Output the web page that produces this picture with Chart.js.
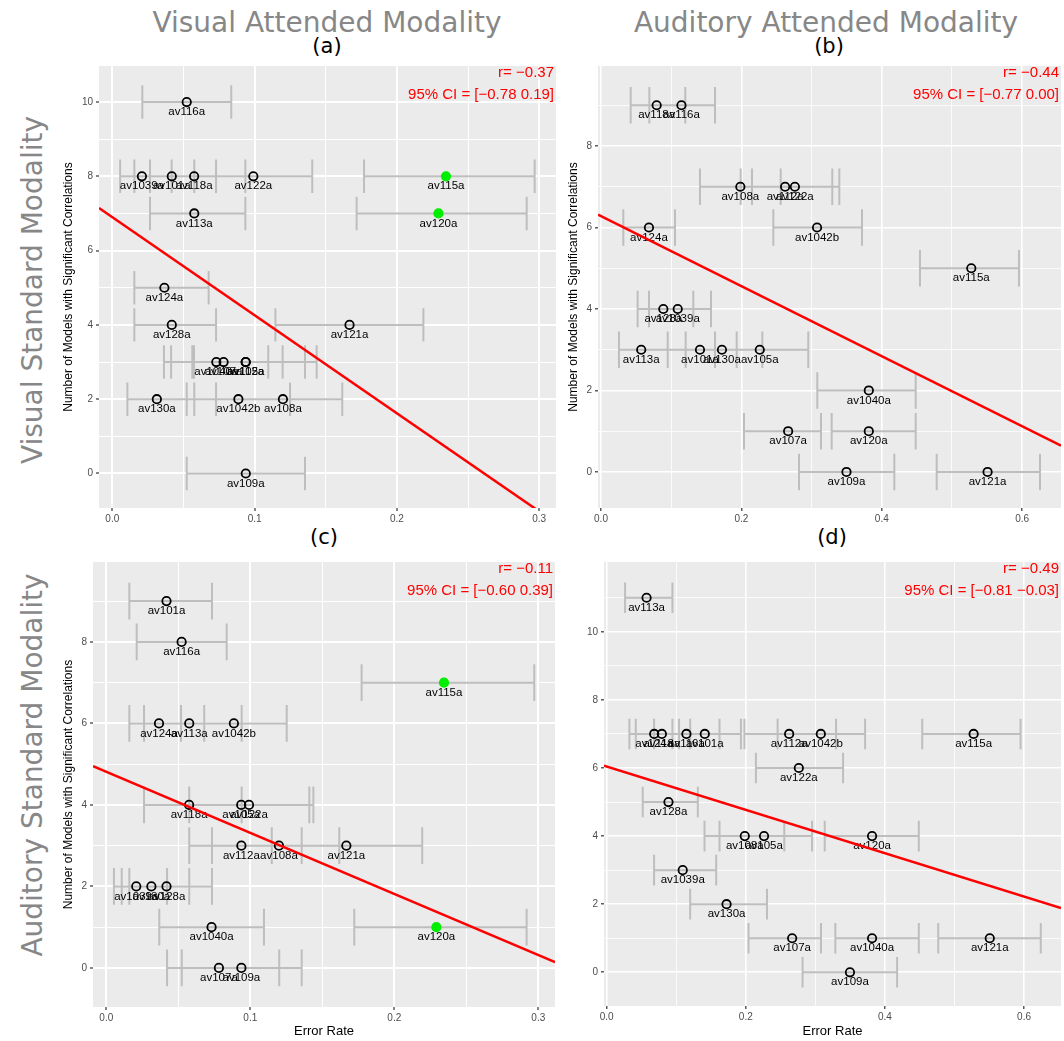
<!DOCTYPE html>
<html>
<head>
<meta charset="utf-8">
<script src="https://cdn.jsdelivr.net/npm/chart.js@4.4.1/dist/chart.umd.min.js"></script>
<style>
  body { margin: 0; background: #fff; width: 1064px; height: 1041px; position: relative; overflow: hidden; font-family: "DejaVu Sans", sans-serif; }
  canvas { position: absolute; }
  .lbl { position: absolute; transform: translate(-50%, -50%); white-space: nowrap; }
  .big { font-size: 28px; color: #878787; }
  .tag { font-size: 21px; color: #000; }
  .rot { transform: translate(-50%, -50%) rotate(-90deg); }
</style>
</head>
<body>
<div class="lbl big" style="left:327px;top:22px">Visual Attended Modality</div>
<div class="lbl big" style="left:826px;top:22px">Auditory Attended Modality</div>
<div class="lbl tag" style="left:327px;top:46px">(a)</div>
<div class="lbl tag" style="left:829px;top:46px">(b)</div>
<div class="lbl tag" style="left:324px;top:537px">(c)</div>
<div class="lbl tag" style="left:832px;top:537px">(d)</div>
<div class="lbl big rot" style="left:32px;top:290px">Visual Standard Modality</div>
<div class="lbl big rot" style="left:32px;top:765px">Auditory Standard Modality</div>

<canvas id="pa"></canvas>
<canvas id="pb"></canvas>
<canvas id="pc"></canvas>
<canvas id="pd"></canvas>

<script>
const models = ['av101a', 'av1039a', 'av1040a', 'av1042b', 'av105a', 'av107a', 'av108a', 'av109a', 'av112a', 'av113a',
                'av115a', 'av116a', 'av118a', 'av120a', 'av121a', 'av122a', 'av124a', 'av128a', 'av130a'];

// error rates per attended modality
const visualRate   = [0.0418, 0.0208, 0.0731, 0.0886, 0.0937, 0.0782, 0.1199, 0.0938, 0.0938, 0.0576,
                      0.2345, 0.0523, 0.0575, 0.2292, 0.1667, 0.0991, 0.0366, 0.0418, 0.0313];
const auditoryRate = [0.1410, 0.1093, 0.3815, 0.3078, 0.2262, 0.2666, 0.1985, 0.3497, 0.2623, 0.0573,
                      0.5275, 0.1146, 0.0793, 0.3815, 0.5507, 0.2762, 0.0683, 0.0888, 0.1723];

// (a) visual attended / visual standard
const countA = [8, 8, 3, 2, 3, 3, 2, 0, 3, 7, 8, 10, 8, 7, 4, 8, 5, 4, 2];
const lowA   = [0.0155, 0.0055, 0.0363, 0.0523, 0.0562, 0.0413, 0.0729, 0.0523, 0.0574, 0.0265,
                0.1769, 0.0211, 0.0265, 0.1717, 0.1146, 0.0576, 0.0155, 0.0155, 0.0106];
const highA  = [0.0729, 0.0417, 0.1096, 0.1249, 0.1354, 0.1197, 0.1616, 0.1354, 0.1436, 0.0935,
                0.2968, 0.0836, 0.0935, 0.2912, 0.2186, 0.1405, 0.0677, 0.0729, 0.0576];

// (b) auditory attended / visual standard
const countB = [3, 4, 2, 6, 3, 1, 7, 0, 7, 3, 5, 9, 9, 1, 0, 7, 6, 4, 3];
const lowB   = [0.0950, 0.0684, 0.3081, 0.2455, 0.1624, 0.2037, 0.1410, 0.2821, 0.1990, 0.0256,
                0.4544, 0.0689, 0.0423, 0.3286, 0.4782, 0.2151, 0.0318, 0.0522, 0.1206];
const highB  = [0.1933, 0.1567, 0.4483, 0.3718, 0.2953, 0.3134, 0.2560, 0.4179, 0.3295, 0.0950,
                0.5954, 0.1624, 0.1201, 0.4483, 0.6254, 0.3395, 0.1054, 0.1315, 0.2298];

// (c) visual attended / auditory standard
const countC = [9, 2, 1, 6, 4, 0, 3, 0, 3, 6, 7, 8, 4, 1, 3, 4, 6, 2, 2];
const lowC   = [0.0160, 0.0053, 0.0368, 0.0519, 0.0576, 0.0422, 0.0734, 0.0524, 0.0576, 0.0262,
                0.1773, 0.0211, 0.0262, 0.1722, 0.1149, 0.0576, 0.0160, 0.0160, 0.0107];
const highC  = [0.0734, 0.0422, 0.1095, 0.1253, 0.1438, 0.1201, 0.1618, 0.1357, 0.1357, 0.0940,
                0.2972, 0.0836, 0.0940, 0.2919, 0.2194, 0.1410, 0.0680, 0.0734, 0.0576];

// (d) auditory attended / auditory standard
const countD = [7, 3, 1, 7, 4, 1, 4, 0, 7, 11, 7, 7, 7, 4, 1, 6, 7, 5, 2];
const lowD   = [0.0945, 0.0681, 0.3287, 0.2457, 0.1622, 0.2039, 0.1406, 0.2816, 0.1980, 0.0264,
                0.4536, 0.0681, 0.0418, 0.3134, 0.4766, 0.2145, 0.0326, 0.0518, 0.1200];
const highD  = [0.1930, 0.1574, 0.4487, 0.3715, 0.2952, 0.3081, 0.2553, 0.4175, 0.3297, 0.0945,
                0.5950, 0.1622, 0.1200, 0.4487, 0.6240, 0.3398, 0.1040, 0.1310, 0.2304];

// fitted lines: [intercept, slope]
const fitA = [6.90, -26.4];
const fitB = [6.277, -8.59];
const fitC = [4.815, -15.0];
const fitD = [6.045, -6.37];

const statsA = ['r= \u22120.37', '95% CI = [\u22120.78 0.19]'];
const statsB = ['r= \u22120.44', '95% CI = [\u22120.77 0.00]'];
const statsC = ['r= \u22120.11', '95% CI = [\u22120.60 0.39]'];
const statsD = ['r= \u22120.49', '95% CI = [\u22120.81 \u22120.03]'];

const greenModels = ['av115a', 'av120a'];

const visualTicks = [0, 0.1, 0.2, 0.3];
const visualMinor = [0.05, 0.15, 0.25];
const auditoryTicks = [0, 0.2, 0.4, 0.6];
const auditoryMinor = [0.1, 0.3, 0.5];
const yTicks10 = [0, 2, 4, 6, 8, 10];
const yTicks8 = [0, 2, 4, 6, 8];
const yMinor9 = [1, 3, 5, 7, 9];
const yMinor11 = [1, 3, 5, 7, 9, 11];

const CAP = 0.45;

Chart.defaults.font.family = '"Liberation Sans", Arial, sans-serif';

const panels = [
    { id: 'pa', box: [60, 66, 496, 462], axisW: 39, axisH: 20, xr: [-0.00935, 0.3118], yr: [-0.929, 10.97],
      rate: visualRate, count: countA, low: lowA, high: highA, fit: fitA, stats: statsA, green: greenModels,
      xTicks: visualTicks, xMinor: visualMinor, yTicks: yTicks10, yMinor: yMinor9, yTitle: true, xTitle: false, gw: 2 },
    { id: 'pb', box: [565, 66, 496, 462], axisW: 33, axisH: 20, xr: [-0.00427, 0.6553], yr: [-0.884, 9.963],
      rate: auditoryRate, count: countB, low: lowB, high: highB, fit: fitB, stats: statsB, green: [],
      xTicks: auditoryTicks, xMinor: auditoryMinor, yTicks: yTicks8, yMinor: yMinor9, yTitle: true, xTitle: false, gw: 1.6 },
    { id: 'pc', box: [60, 562, 495, 479], axisW: 33, axisH: 34, xr: [-0.00924, 0.3116], yr: [-0.959, 9.96],
      rate: visualRate, count: countC, low: lowC, high: highC, fit: fitC, stats: statsC, green: greenModels,
      xTicks: visualTicks, xMinor: visualMinor, yTicks: yTicks8, yMinor: yMinor9, yTitle: true, xTitle: true, gw: 2 },
    { id: 'pd', box: [565, 562, 496, 479], axisW: 39, axisH: 35, xr: [-0.00389, 0.6531], yr: [-0.99, 12.05],
      rate: auditoryRate, count: countD, low: lowD, high: highD, fit: fitD, stats: statsD, green: [],
      xTicks: auditoryTicks, xMinor: auditoryMinor, yTicks: yTicks10, yMinor: yMinor11, yTitle: false, xTitle: true, gw: 1.6 }
];

const has = (list, v) => list.some((t) => Math.abs(t - v) < 1e-9);

const panelBg = {
    id: 'panelBg',
    beforeDraw(chart) {
        const { ctx, chartArea: a } = chart;
        ctx.save();
        ctx.fillStyle = '#EBEBEB';
        ctx.fillRect(a.left, a.top, a.right - a.left, a.bottom - a.top);
        ctx.restore();
    }
};

const pointLabels = {
    id: 'pointLabels',
    afterDatasetDraw(chart, args) {
        if (args.index !== 1) return;
        const ctx = chart.ctx;
        ctx.save();
        ctx.font = '11.5px "Liberation Sans", Arial, sans-serif';
        ctx.fillStyle = '#000';
        ctx.textAlign = 'center';
        ctx.textBaseline = 'middle';
        args.meta.data.forEach((el, j) => ctx.fillText(models[j], el.x, el.y + 10));
        ctx.restore();
    }
};

const statText = {
    id: 'statText',
    afterDraw(chart) {
        const lines = chart.options.plugins.statText.lines;
        const { ctx, chartArea: a } = chart;
        ctx.save();
        ctx.font = '15px "Liberation Sans", Arial, sans-serif';
        ctx.fillStyle = '#FF0000';
        ctx.textAlign = 'right';
        ctx.textBaseline = 'middle';
        ctx.fillText(lines[0], a.right - 2, a.top + 7);
        ctx.fillText(lines[1], a.right - 2, a.top + 29);
        ctx.restore();
    }
};

function axisGrid(major, width) {
    return {
        color: '#FFFFFF',
        lineWidth: (c) => (c.tick && has(major, c.tick.value) ? width : width / 2),
        tickColor: (c) => (c.tick && has(major, c.tick.value) ? '#333333' : 'rgba(0,0,0,0)'),
        tickWidth: 1.2,
        tickLength: 3,
        drawTicks: true
    };
}

function makeChart(p) {
    const canvas = document.getElementById(p.id);
    canvas.style.left = p.box[0] + 'px';
    canvas.style.top = p.box[1] + 'px';
    canvas.width = p.box[2];
    canvas.height = p.box[3];

    const bars = [];
    p.count.forEach((c, i) => {
        bars.push({ x: p.low[i], y: c }, { x: p.high[i], y: c }, { x: p.low[i], y: null });
        bars.push({ x: p.low[i], y: c - CAP }, { x: p.low[i], y: c + CAP }, { x: p.low[i], y: null });
        bars.push({ x: p.high[i], y: c - CAP }, { x: p.high[i], y: c + CAP }, { x: p.high[i], y: null });
    });

    const points = models.map((m, i) => ({ x: p.rate[i], y: p.count[i] }));
    const isGreen = models.map((m) => p.green.includes(m));
    const [b0, b1] = p.fit;
    const fitLine = [
        { x: p.xr[0], y: b0 + b1 * p.xr[0] },
        { x: p.xr[1], y: b0 + b1 * p.xr[1] }
    ];

    new Chart(canvas, {
        type: 'scatter',
        data: {
            datasets: [
                {
                    type: 'line', data: bars, order: 2, borderColor: '#BEBEBE', borderWidth: 2,
                    pointRadius: 0, spanGaps: false, tension: 0, borderCapStyle: 'butt'
                },
                {
                    type: 'scatter', data: points, order: 1, pointRadius: 4.2, pointBorderWidth: 1.8,
                    pointBorderColor: isGreen.map((g) => (g ? '#00EE00' : '#000000')),
                    pointBackgroundColor: isGreen.map((g) => (g ? '#00EE00' : 'rgba(0,0,0,0)'))
                },
                {
                    type: 'line', data: fitLine, order: 0, borderColor: '#FF0000', borderWidth: 2.5,
                    pointRadius: 0, tension: 0
                }
            ]
        },
        options: {
            responsive: false,
            animation: false,
            devicePixelRatio: 1,
            layout: { padding: 0, autoPadding: false },
            events: [],
            scales: {
                x: {
                    type: 'linear',
                    min: p.xr[0],
                    max: p.xr[1],
                    afterBuildTicks: (s) => {
                        s.ticks = [...p.xTicks, ...p.xMinor].sort((a, b) => a - b).map((v) => ({ value: v }));
                    },
                    afterFit: (s) => { s.height = p.axisH; s.paddingLeft = 0; s.paddingRight = 0; },
                    grid: axisGrid(p.xTicks, p.gw),
                    border: { display: false },
                    ticks: {
                        autoSkip: false, maxRotation: 0, padding: 2, color: '#4D4D4D', font: { size: 10 },
                        callback: (v) => (has(p.xTicks, v) ? v.toFixed(1) : '')
                    },
                    title: {
                        display: p.xTitle, text: 'Error Rate', color: '#000', font: { size: 13 },
                        padding: { top: 0, bottom: 2 }
                    }
                },
                y: {
                    type: 'linear',
                    min: p.yr[0],
                    max: p.yr[1],
                    afterBuildTicks: (s) => {
                        s.ticks = [...p.yTicks, ...p.yMinor].sort((a, b) => a - b).map((v) => ({ value: v }));
                    },
                    afterFit: (s) => { s.width = p.axisW; s.paddingTop = 0; s.paddingBottom = 0; },
                    grid: axisGrid(p.yTicks, p.gw),
                    border: { display: false },
                    ticks: {
                        autoSkip: false, padding: 3, color: '#4D4D4D', font: { size: 10 },
                        callback: (v) => (has(p.yTicks, v) ? String(v) : '')
                    },
                    title: {
                        display: p.yTitle, text: 'Number of Models with Significant Correlations',
                        color: '#000', font: { size: 12 }, padding: { top: 1, bottom: 0 }
                    }
                }
            },
            plugins: {
                legend: { display: false },
                tooltip: { enabled: false },
                statText: { lines: p.stats }
            }
        },
        plugins: [panelBg, pointLabels, statText]
    });
}

panels.forEach(makeChart);
</script>
</body>
</html>
